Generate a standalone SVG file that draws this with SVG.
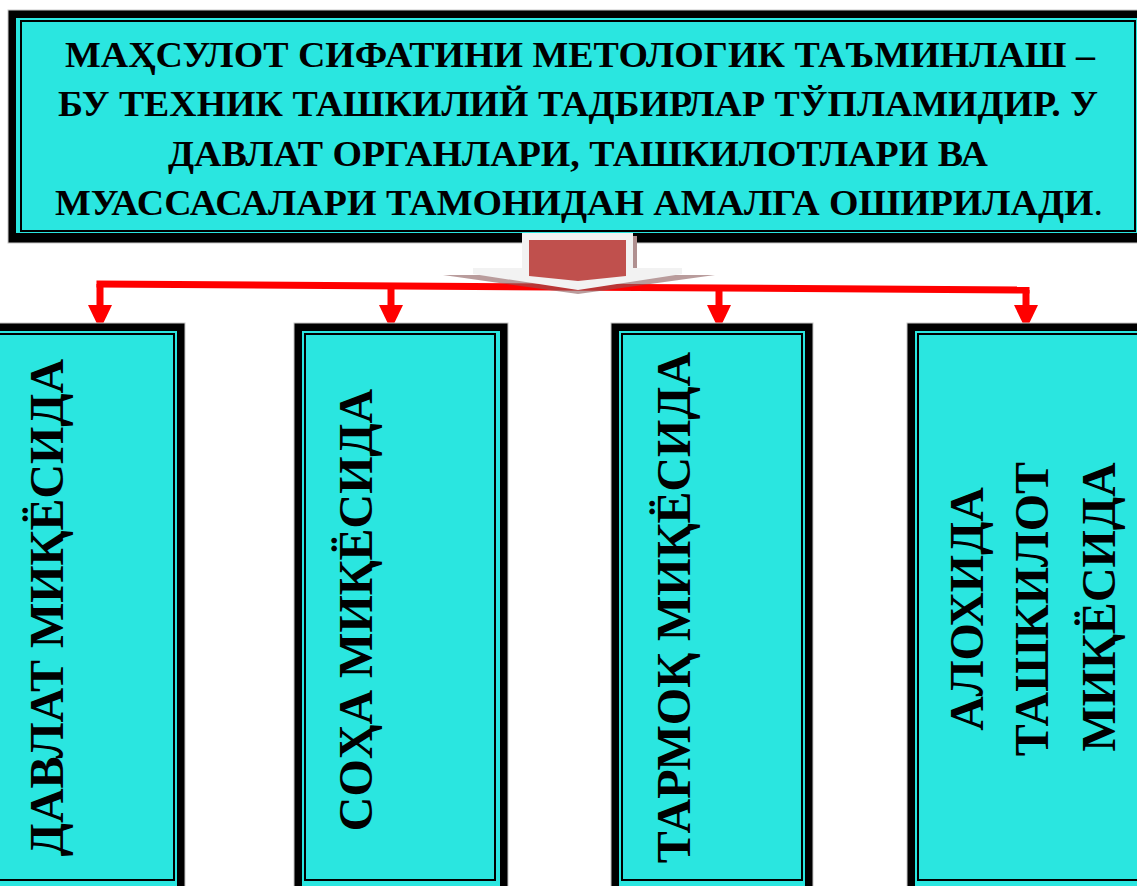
<svg xmlns="http://www.w3.org/2000/svg" width="1137" height="886" viewBox="0 0 1137 886">
<style>
.outer{fill:#000;stroke:#c8c8c8;stroke-width:1}
.gap{fill:#2ae6e0}
.inner{fill:#2ae6e0;stroke:#000;stroke-width:2}
.t{font-family:"Liberation Serif","Times New Roman",serif;font-weight:bold;fill:#000}
.head{font-size:36px}
.vt{font-size:48px;text-anchor:middle}
.conn{fill:none;stroke:#ff0000;stroke-width:7}
</style>
<defs>
<marker id="ah" markerUnits="userSpaceOnUse" markerWidth="26" markerHeight="26" viewBox="0 0 26 26" refX="0" refY="12" orient="auto">
<path d="M0,0 L25,12 L0,24 z" fill="#ff0000"/>
</marker>
</defs>
<rect width="1137" height="886" fill="#fff"/>
<g id="top">
<rect class="outer" x="8" y="10" width="1140" height="233"/>
<rect class="gap" x="16" y="18" width="1130" height="215"/>
<rect class="inner" x="21" y="21" width="1114" height="210"/>
<text class="t head" x="65" y="67" textLength="1030" lengthAdjust="spacingAndGlyphs">МАҲСУЛОТ СИФАТИНИ МЕТОЛОГИК ТАЪМИНЛАШ –</text>
<text class="t head" x="58" y="116" textLength="1040" lengthAdjust="spacingAndGlyphs">БУ ТЕХНИК ТАШКИЛИЙ ТАДБИРЛАР ТЎПЛАМИДИР. У</text>
<text class="t head" x="168" y="166" textLength="820" lengthAdjust="spacingAndGlyphs">ДАВЛАТ ОРГАНЛАРИ, ТАШКИЛОТЛАРИ ВА</text>
<text class="t head" x="55" y="215" textLength="1048" lengthAdjust="spacingAndGlyphs">МУАССАСАЛАРИ ТАМОНИДАН АМАЛГА ОШИРИЛАДИ<tspan font-weight="normal">.</tspan></text>
</g>
<g id="connectors">
<path class="conn" d="M96.5,284 L1029.5,290"/>
<path class="conn" d="M100,284 V305" marker-end="url(#ah)"/>
<path class="conn" d="M391,285.9 V305" marker-end="url(#ah)"/>
<path class="conn" d="M719,288 V305" marker-end="url(#ah)"/>
<path class="conn" d="M1026,290 V305" marker-end="url(#ah)"/>
</g>
<g id="arrow">
<polygon points="443,275 715,275 578,294" fill="#8a5a5a" fill-opacity="0.6"/>
<rect x="633" y="236" width="4" height="33" fill="#b09090"/>
<polygon points="522,233 633,233 633,268 682,268 682,274 578,290 473,274 473,268 522,268" fill="#f2f2f2"/>
<polygon points="529,240 626,240 626,276 578,281 529,276" fill="#c0504d"/>
</g>
<g id="box1">
<rect class="outer" x="-30" y="323" width="215" height="580"/>
<rect class="gap" x="-22" y="331" width="199" height="564"/>
<rect class="inner" x="-19" y="334" width="193" height="546"/>
<text class="t vt" transform="translate(63,607.5) rotate(-90)">ДАВЛАТ МИҚЁСИДА</text>
</g>
<g id="box2">
<rect class="outer" x="294" y="323" width="214" height="580"/>
<rect class="gap" x="302" y="331" width="198" height="564"/>
<rect class="inner" x="305" y="334" width="190" height="546"/>
<text class="t vt" transform="translate(372,610) rotate(-90)">СОҲА МИҚЁСИДА</text>
</g>
<g id="box3">
<rect class="outer" x="611" y="323" width="202" height="580"/>
<rect class="gap" x="619" y="331" width="186" height="564"/>
<rect class="inner" x="622" y="334" width="180" height="546"/>
<text class="t vt" transform="translate(690,607.5) rotate(-90)">ТАРМОҚ МИҚЁСИДА</text>
</g>
<g id="box4">
<rect class="outer" x="907" y="323" width="250" height="580"/>
<rect class="gap" x="915" y="331" width="240" height="564"/>
<rect class="inner" x="918" y="334" width="230" height="546"/>
<text class="t vt" transform="translate(983,609) rotate(-90)">АЛОХИДА</text>
<text class="t vt" transform="translate(1048,609) rotate(-90)">ТАШКИЛОТ</text>
<text class="t vt" transform="translate(1115,607) rotate(-90)">МИҚЁСИДА</text>
</g>
</svg>
